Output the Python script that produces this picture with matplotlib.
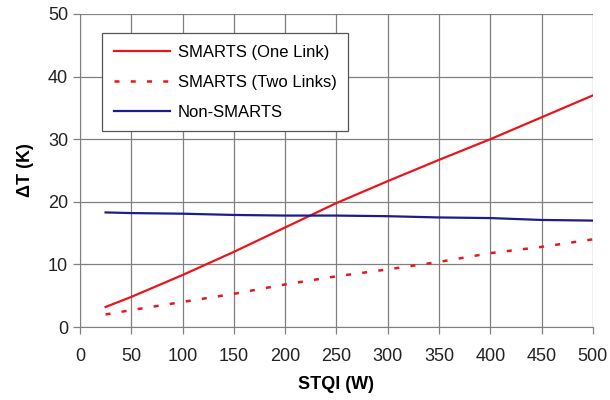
import matplotlib
matplotlib.use('Agg')
import matplotlib.pyplot as plt

# 数据
stqi = [25, 50, 100, 150, 200, 250, 300, 350, 400, 450, 500]
one_link = [3.2, 4.8, 8.3, 12.0, 15.9, 19.8, 23.3, 26.7, 30.0, 33.5, 37.0]
two_links = [2.0, 2.7, 4.0, 5.3, 6.8, 8.1, 9.2, 10.4, 11.8, 12.8, 14.0]
non_smarts = [18.3, 18.2, 18.1, 17.9, 17.8, 17.8, 17.7, 17.5, 17.4, 17.1, 17.0]

x_ticks = list(range(0, 501, 50))
y_ticks = list(range(0, 51, 10))

plt.rcParams['font.family'] = ['Liberation Sans', 'DejaVu Sans']

fig = plt.figure(figsize=(6.1, 4.0), dpi=100)
ax = fig.add_axes([0.131, 0.1825, 0.841, 0.7825])

red = '#e8161c'
blue = '#1c1c8c'
ax.plot(stqi, one_link, color=red, lw=1.6, label='SMARTS (One Link)')
ax.plot(stqi, two_links, color=red, lw=1.8, linestyle=(0, (2, 4.5)), label='SMARTS (Two Links)')
ax.plot(stqi, non_smarts, color=blue, lw=1.6, label='Non-SMARTS')

ax.set_xlim(0, 500)
ax.set_ylim(0, 50)
ax.set_xticks(x_ticks)
ax.set_yticks(y_ticks)
ax.grid(True, color='#808080', lw=0.9)
ax.set_axisbelow(True)
for s in ['top', 'right']:
    ax.spines[s].set_visible(False)
for s in ['left', 'bottom']:
    ax.spines[s].set_color('#808080')
ax.tick_params(colors='#808080', labelcolor='#222222', labelsize=13, length=5, width=0.9)
ax.tick_params(axis='x', pad=10)

ax.set_xlabel('STQI (W)', fontsize=13, fontweight='bold', labelpad=8)
ax.set_ylabel('ΔT (K)', fontsize=13, fontweight='bold', labelpad=10)

leg = ax.legend(loc='upper left', bbox_to_anchor=(0.043, 0.939), borderaxespad=0,
                fancybox=False, framealpha=1, edgecolor='#555555', fontsize=12,
                handlelength=3.4, handletextpad=0.45, labelspacing=0.9, borderpad=0.7)
leg.get_frame().set_linewidth(0.9)

plt.savefig('out.png', dpi=100)
plt.close()
